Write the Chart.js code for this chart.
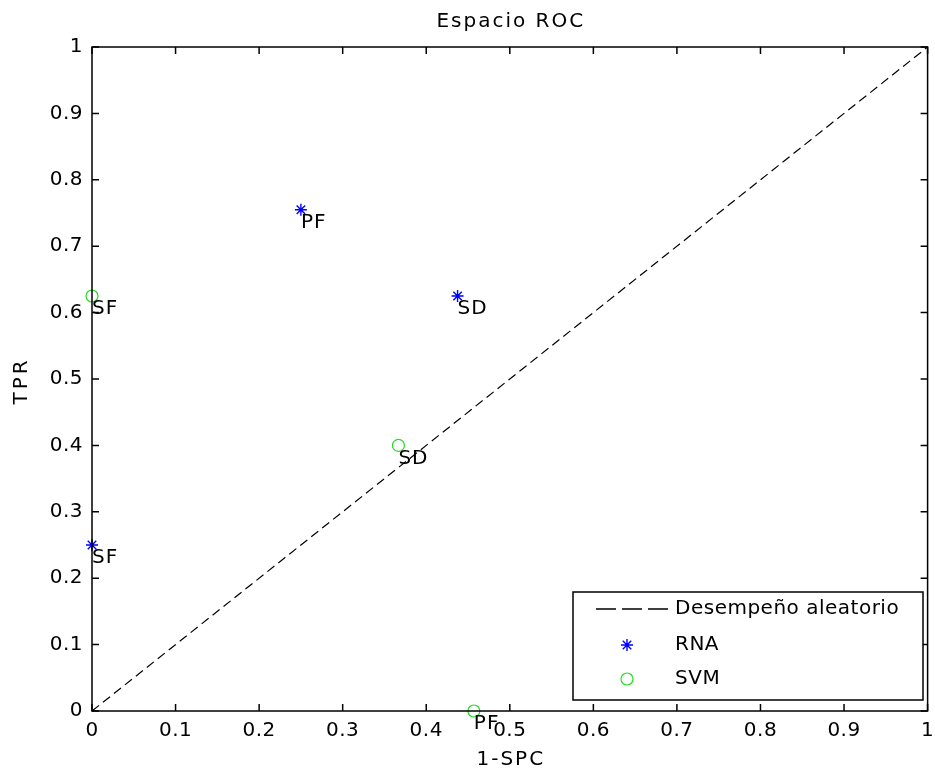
<!DOCTYPE html>
<html>
<head>
<meta charset="utf-8">
<script src="https://cdn.jsdelivr.net/npm/chart.js@4.4.0/dist/chart.umd.min.js"></script>
<style>
  html, body { margin: 0; padding: 0; background: #fff; }
  #wrap { width: 935px; height: 776px; }
</style>
</head>
<body>
<div id="wrap"><canvas id="rocChart"></canvas></div>
<script>
// datos del espacio ROC
var rnaX = [0, 0.4375, 0.25];
var rnaY = [0.25, 0.625, 0.755];
var rnaLabels = ['SF', 'SD', 'PF'];

var svmX = [0, 0.3667, 0.457];
var svmY = [0.625, 0.4, 0];
var svmLabels = ['SF', 'SD', 'PF'];

var randomX = [0, 1];
var randomY = [0, 1];

var tickValues = [0, 0.1, 0.2, 0.3, 0.4, 0.5, 0.6, 0.7, 0.8, 0.9, 1];

var fontName = '"DejaVu Sans", Verdana, sans-serif';

function toPoints(xs, ys) {
    return xs.map(function (x, i) { return { x: x, y: ys[i] }; });
}

// marco, marcas hacia dentro, etiquetas, titulo y leyenda (estilo MATLAB)
var matlabStyle = {
    id: 'matlabStyle',
    beforeDraw: function (chart) {
        chart.ctx.letterSpacing = '0.5px';
    },
    afterDraw: function (chart) {
        var c = chart.ctx;
        var a = chart.chartArea;
        var xs = chart.scales.x, ys = chart.scales.y;
        c.save();
        c.strokeStyle = '#000';
        c.lineWidth = 1.5;
        c.strokeRect(a.left, a.top, a.right - a.left, a.bottom - a.top);
        c.beginPath();
        tickValues.forEach(function (v) {
            var px = xs.getPixelForValue(v);
            c.moveTo(px, a.bottom); c.lineTo(px, a.bottom - 7);
            c.moveTo(px, a.top); c.lineTo(px, a.top + 7);
            var py = ys.getPixelForValue(v);
            c.moveTo(a.left, py); c.lineTo(a.left + 7, py);
            c.moveTo(a.right, py); c.lineTo(a.right - 7, py);
        });
        c.stroke();

        // etiquetas de los puntos
        c.fillStyle = '#000';
        c.letterSpacing = '1px';
        c.font = '20px ' + fontName;
        c.textAlign = 'left';
        c.textBaseline = 'middle';
        [[rnaX, rnaY, rnaLabels], [svmX, svmY, svmLabels]].forEach(function (s) {
            s[2].forEach(function (lab, i) {
                c.fillText(lab, xs.getPixelForValue(s[0][i]), ys.getPixelForValue(s[1][i]) + 13);
            });
        });

        // titulo y nombres de los ejes
        c.letterSpacing = '2px';
        c.font = '20px ' + fontName;
        c.textAlign = 'center';
        c.fillText('Espacio ROC', (a.left + a.right) / 2 + 1, 22);
        c.fillText('1-SPC', (a.left + a.right) / 2 + 1, 760);
        c.save();
        c.translate(22, (a.top + a.bottom) / 2 + 2);
        c.rotate(-Math.PI / 2);
        c.letterSpacing = '3px';
        c.fillText('TPR', 0, 0);
        c.restore();

        // leyenda
        var lx = 573, ly = 592, lw = 350, lh = 108;
        c.fillStyle = '#fff';
        c.fillRect(lx, ly, lw, lh);
        c.strokeStyle = '#000';
        c.lineWidth = 1.5;
        c.strokeRect(lx, ly, lw, lh);
        c.lineWidth = 1.5;
        c.setLineDash([20, 6]);
        c.beginPath();
        c.moveTo(596, 609); c.lineTo(668, 609);
        c.stroke();
        c.setLineDash([]);
        c.fillStyle = '#000';
        c.letterSpacing = '0.5px';
        c.font = '20px ' + fontName;
        c.textAlign = 'left';
        c.fillText('Desempeño aleatorio', 675, 609);
        c.fillText('RNA', 675, 645);
        c.fillText('SVM', 675, 679);
        c.strokeStyle = '#0000ff';
        c.lineWidth = 1.4;
        Chart.helpers.drawPoint(c, { pointStyle: 'star', radius: 6, rotation: 0, borderWidth: 1.4 }, 627, 645);
        c.strokeStyle = '#22dd22';
        c.lineWidth = 1.2;
        c.beginPath();
        c.arc(627, 679, 6, 0, Math.PI * 2);
        c.stroke();
        c.restore();
    }
};

function fixSize(w, h) {
    return function (scale) {
        if (w) scale.width = w;
        if (h) scale.height = h;
        scale.paddingLeft = 0; scale.paddingRight = 0;
        scale.paddingTop = 0; scale.paddingBottom = 0;
    };
}

var ctx = document.getElementById('rocChart');
var rocChart = new Chart(ctx, {
    type: 'scatter',
    data: {
        datasets: [{
            type: 'line',
            label: 'Desempeño aleatorio',
            data: toPoints(randomX, randomY),
            borderColor: '#000',
            borderWidth: 1.2,
            borderDash: [9, 5],
            pointRadius: 0,
            fill: false
        }, {
            label: 'RNA',
            data: toPoints(rnaX, rnaY),
            pointStyle: 'star',
            pointRadius: 6,
            borderColor: '#0000ff',
            backgroundColor: '#0000ff',
            pointBorderWidth: 1.4
        }, {
            label: 'SVM',
            data: toPoints(svmX, svmY),
            pointStyle: 'circle',
            pointRadius: 6,
            borderColor: '#22dd22',
            backgroundColor: 'rgba(0,0,0,0)',
            pointBorderWidth: 1.2
        }]
    },
    options: {
        responsive: true,
        maintainAspectRatio: false,
        animation: false,
        clip: false,
        layout: { padding: { top: 47, right: 3, left: 0, bottom: 0 } },
        plugins: {
            legend: { display: false },
            title: { display: false },
            tooltip: { enabled: false }
        },
        scales: {
            x: {
                type: 'linear',
                min: 0, max: 1,
                afterFit: fixSize(null, 65),
                afterBuildTicks: function (s) { s.ticks = tickValues.map(function (v) { return { value: v }; }); },
                grid: { display: false, drawTicks: false },
                border: { display: false },
                ticks: {
                    padding: 8,
                    color: '#000',
                    font: { family: fontName, size: 20 },
                    callback: function (v) { return String(v); }
                }
            },
            y: {
                type: 'linear',
                min: 0, max: 1,
                afterFit: fixSize(92, null),
                afterBuildTicks: function (s) { s.ticks = tickValues.map(function (v) { return { value: v }; }); },
                grid: { display: false, drawTicks: false },
                border: { display: false },
                ticks: {
                    padding: 9,
                    color: '#000',
                    font: { family: fontName, size: 20 },
                    callback: function (v) { return String(v); }
                }
            }
        }
    },
    plugins: [matlabStyle]
});
</script>
</body>
</html>
